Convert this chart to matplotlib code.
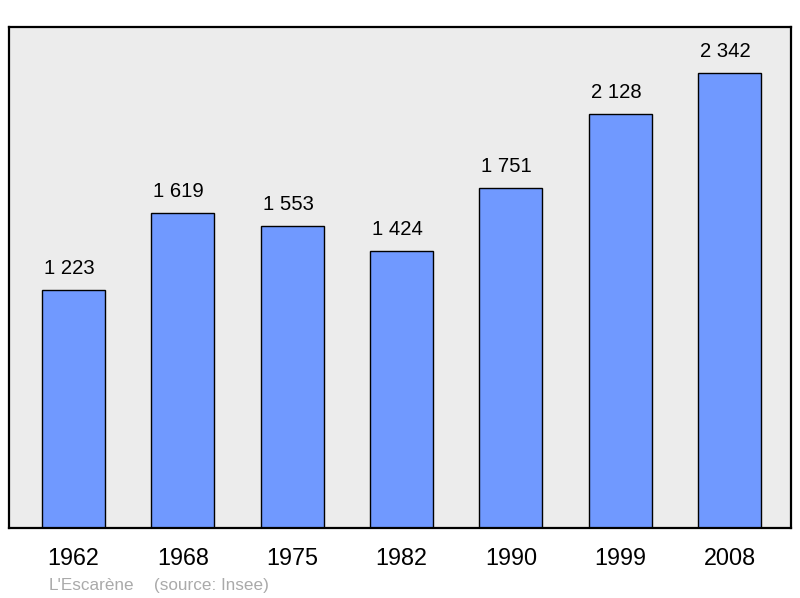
import matplotlib
matplotlib.use("Agg")
import matplotlib.pyplot as plt

years = ["1962", "1968", "1975", "1982", "1990", "1999", "2008"]
population = [1223, 1619, 1553, 1424, 1751, 2128, 2342]
value_labels = ["1 223", "1 619", "1 553", "1 424", "1 751", "2 128", "2 342"]

plt.rcParams['font.family'] = ['Liberation Sans', 'DejaVu Sans']

fig = plt.figure(figsize=(8, 5.98), dpi=100)
ax = fig.add_axes([9/800, 70/598, 782/800, 501/598])
ax.set_facecolor('#ececec')

x = list(range(len(years)))
ax.bar(x, population, width=0.576, color='#7099ff', edgecolor='black', linewidth=1.0, zorder=2)

for xi, v, lab in zip(x, population, value_labels):
    ax.annotate(lab, (xi, v), xytext=(-4, 12), textcoords='offset pixels',
                ha='center', va='bottom', fontsize=14.6, color='black')

ax.set_xlim(-0.59, 6.5625)
ax.set_ylim(0, 2578)
ax.set_yticks([])
ax.set_xticks(x)
ax.set_xticklabels(years, fontsize=16.8)
ax.tick_params(axis='x', length=0, pad=14)
for s in ax.spines.values():
    s.set_linewidth(1.6)
    s.set_color('black')

fig.text(49/800, 1 - 590/598, "L'Escarène", fontsize=12.3, color='#aaaaaa', ha='left', va='baseline')
fig.text(154/800, 1 - 590/598, "(source: Insee)", fontsize=12.3, color='#aaaaaa', ha='left', va='baseline')

fig.savefig("out.png", dpi=100)
